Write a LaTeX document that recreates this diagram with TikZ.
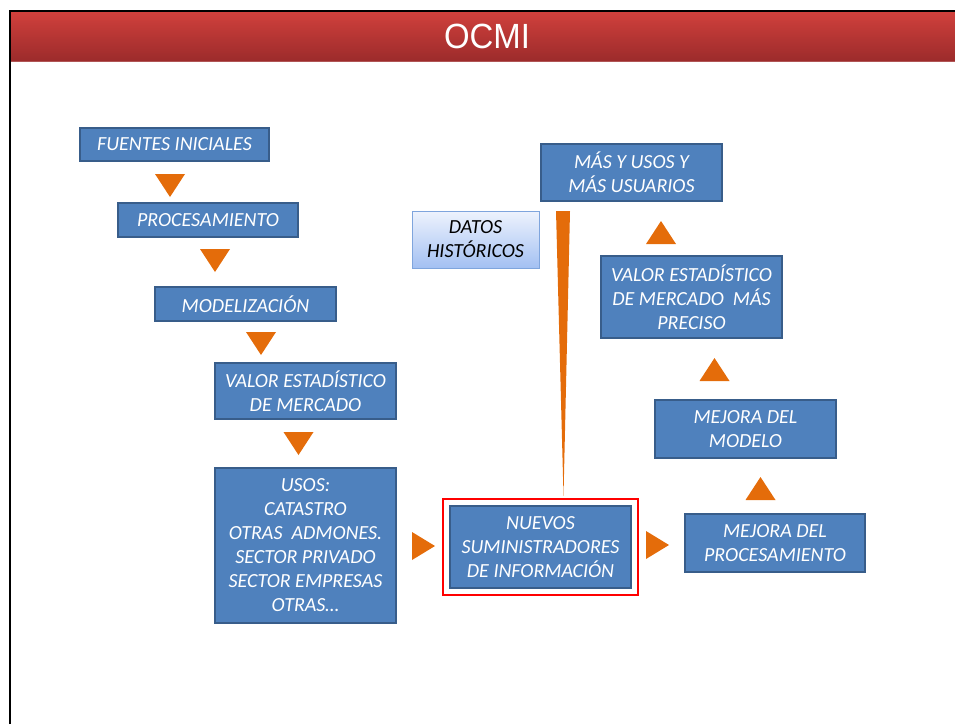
\documentclass[tikz,border=0pt]{standalone}
\usepackage{fontspec}
\setmainfont{Carlito}
\newfontfamily\titlefont{Liberation Sans}
\usetikzlibrary{fit}

\definecolor{boxblue}{HTML}{4F81BD}
\definecolor{boxedge}{HTML}{385D8A}
\definecolor{flecha}{HTML}{E46C0A}
\definecolor{bartop}{HTML}{D0403C}
\definecolor{barbot}{HTML}{9C2B2B}
\definecolor{histtop}{HTML}{EEF3FD}
\definecolor{histbot}{HTML}{A3C0F2}
\definecolor{histedge}{HTML}{7FA5DD}

\tikzset{
  paso/.style={draw=boxedge, line width=1.8pt, fill=boxblue, text=white,
    font=\fontsize{20}{24}\selectfont\itshape, align=center, inner sep=2pt},
  historico/.style={draw=histedge, line width=1pt, top color=histtop, bottom color=histbot,
    text=black, font=\fontsize{20}{24}\selectfont\itshape, align=center, inner sep=2pt},
  marco/.style={draw=red, line width=2pt, inner sep=6pt},
}

% triangulos naranjas: abajo, derecha, arriba
\newcommand\trabajo[2]{\fill[flecha] (#1-15,#2-11.5) -- (#1+15,#2-11.5) -- (#1,#2+11.5) -- cycle;}
\newcommand\trderecha[2]{\fill[flecha] (#1-11.5,#2-14) -- (#1+11.5,#2) -- (#1-11.5,#2+14) -- cycle;}
\newcommand\trarriba[2]{\fill[flecha] (#1-15,#2+11.5) -- (#1+15,#2+11.5) -- (#1,#2-11.5) -- cycle;}

\begin{document}
\begin{tikzpicture}[x=1pt, y=-1pt]
  \useasboundingbox (0,0) rectangle (955,724);
  % cabecera
  \shade[top color=bartop, bottom color=barbot] (10,12) rectangle (955,61);
  \draw[barbot!80, line width=0.8pt] (10,61) -- (955,61);
  \draw[line width=2pt] (10,724) -- (10,11) -- (955,11);
  \node[text=white, font=\titlefont\fontsize{35}{40}\selectfont, xscale=0.94] (titulo) at (487,36) {OCMI};

  % columna izquierda
  \node[paso, minimum width=189, minimum height=33] (fuentes) at (174.5,144.5) {FUENTES INICIALES};
  \node[paso, minimum width=180, minimum height=34] (proc) at (208,220) {PROCESAMIENTO};
  \node[paso, minimum width=181, minimum height=34] (model) at (245.5,304) {MODELIZACIÓN};
  \node[paso, minimum width=181, minimum height=56] (valor) at (305.5,391) {VALOR ESTADÍSTICO\\DE MERCADO};
  \node[paso, minimum width=181, minimum height=155] (usos) at (305.5,545.5)
    {USOS:\\CATASTRO\\OTRAS\ \ ADMONES.\\SECTOR PRIVADO\\SECTOR EMPRESAS\\OTRAS…};

  % centro
  \node[paso, minimum width=181, minimum height=82] (nuevos) at (540.5,547) {NUEVOS\\SUMINISTRADORES\\DE INFORMACIÓN};
  \node[marco, fit=(nuevos)] (destacado) {};
  \node[historico, minimum width=127, minimum height=57] (datos) at (475.5,239.5) {DATOS\\HISTÓRICOS};
  \fill[flecha] (556,211) -- (570,211) -- (563.5,496) -- cycle;

  % columna derecha
  \node[paso, minimum width=180, minimum height=58] (mejproc) at (775,543) {MEJORA DEL\\PROCESAMIENTO};
  \node[paso, minimum width=181, minimum height=58] (mejmod) at (745.5,429) {MEJORA DEL\\MODELO};
  \node[paso, minimum width=181, minimum height=82] (preciso) at (691.5,297) {VALOR ESTADÍSTICO\\DE MERCADO\ \ MÁS\\PRECISO};
  \node[paso, minimum width=181, minimum height=57] (masusos) at (631.5,172.5) {MÁS Y USOS Y\\MÁS USUARIOS};

  \trabajo{170}{185.5}
  \trabajo{215}{260.5}
  \trabajo{261}{343.5}
  \trabajo{298.5}{443.5}
  \trderecha{423.5}{546}
  \trderecha{657.5}{545}
  \trarriba{760.5}{488.5}
  \trarriba{714.5}{369.5}
  \trarriba{661}{232.5}
\end{tikzpicture}
\end{document}
